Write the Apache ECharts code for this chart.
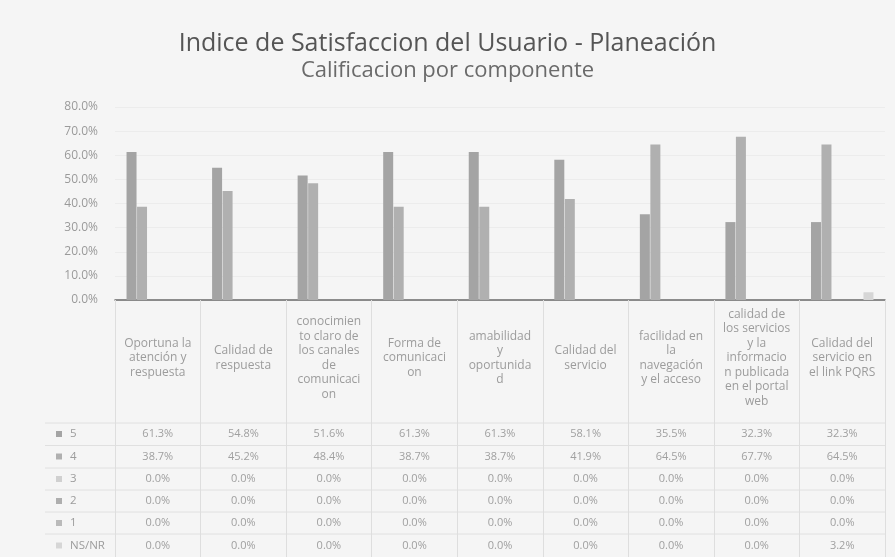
<!DOCTYPE html>
<html>
<head>
<meta charset="utf-8">
<script src="https://cdn.jsdelivr.net/npm/echarts@6/dist/echarts.min.js"></script>
<style>
html,body{margin:0;padding:0;background:#f5f5f5;}
#chart{width:895px;height:557px;}
</style>
</head>
<body>
<div id="chart"></div>
<script>
const categories = [
  'Oportuna la\natención y\nrespuesta',
  'Calidad de\nrespuesta',
  'conocimien\nto claro de\nlos canales\nde\ncomunicaci\non',
  'Forma de\ncomunicaci\non',
  'amabilidad\ny\noportunida\nd',
  'Calidad del\nservicio',
  'facilidad en\nla\nnavegación\ny el acceso',
  'calidad de\nlos servicios\ny la\ninformacio\nn publicada\nen el portal\nweb',
  'Calidad del\nservicio en\nel link PQRS'
];
const seriesNames = ['5', '4', '3', '2', '1', 'NS/NR'];
const s5 = [61.3, 54.8, 51.6, 61.3, 61.3, 58.1, 35.5, 32.3, 32.3];
const s4 = [38.7, 45.2, 48.4, 38.7, 38.7, 41.9, 64.5, 67.7, 64.5];
const s3 = [0, 0, 0, 0, 0, 0, 0, 0, 0];
const s2 = [0, 0, 0, 0, 0, 0, 0, 0, 0];
const s1 = [0, 0, 0, 0, 0, 0, 0, 0, 0];
const sNS = [0, 0, 0, 0, 0, 0, 0, 0, 3.2];
const yTickMin = 0, yTickMax = 80, yTickStep = 10;

const seriesData = [s5, s4, s3, s2, s1, sNS];
const colors = ['#a4a4a4', '#b0b0b0', '#d0d0d0', '#aeaeae', '#bababa', '#d6d6d6'];
const FONT = 'Open Sans';
const axisY = 300;
const gridLeft = 115, gridRight = 10;
const rowY = [434, 456.5, 479, 501, 523, 545.5];
const rowLines = [423, 445.5, 468, 490, 512, 534];

const chart = echarts.init(document.getElementById('chart'));

const xAxes = [{
  type: 'category',
  data: categories,
  gridIndex: 0,
  position: 'bottom',
  axisLine: { show: true, lineStyle: { color: '#6a6a6a', width: 1.5 } },
  axisTick: { show: true, interval: 0, length: 257, lineStyle: { color: '#dedede', width: 1 } },
  axisLabel: {
    interval: 0, margin: 58, verticalAlign: 'middle', lineHeight: 14.5,
    fontSize: 12, color: '#9c9c9c', fontFamily: FONT, align: 'center'
  },
  splitLine: { show: false }
}];
seriesData.forEach(function (arr, k) {
  xAxes.push({
    type: 'category',
    data: categories,
    gridIndex: 0,
    position: 'bottom',
    offset: rowY[k] - axisY,
    axisLine: { show: false },
    axisTick: { show: false },
    axisLabel: {
      interval: 0, margin: 0, verticalAlign: 'middle',
      fontSize: 11, color: '#a0a0a0', fontFamily: FONT,
      formatter: function (v, i) { return arr[i].toFixed(1) + '%'; }
    }
  });
});

const graphics = [];
rowLines.forEach(function (y) {
  graphics.push({
    type: 'line', silent: true,
    shape: { x1: 45, y1: y, x2: 895 - gridRight, y2: y },
    style: { stroke: '#e0e0e0', lineWidth: 1 }
  });
});
seriesNames.forEach(function (n, k) {
  graphics.push({
    type: 'rect', silent: true,
    shape: { x: 56, y: rowY[k] - 3, width: 6, height: 6 },
    style: { fill: colors[k] }
  });
  graphics.push({
    type: 'text', silent: true,
    x: 70, y: rowY[k],
    style: { text: n, fill: '#9c9c9c', font: '11.5px "' + FONT + '"', verticalAlign: 'middle', align: 'left' }
  });
});

chart.setOption({
  backgroundColor: '#f5f5f5',
  animation: false,
  title: {
    left: 'center', top: 26,
    text: 'Indice de Satisfaccion del Usuario - Planeación',
    subtext: 'Calificacion por componente',
    itemGap: 4,
    textStyle: { fontSize: 25, fontWeight: 'normal', color: '#555555', fontFamily: FONT },
    subtextStyle: { fontSize: 22, color: '#6a6a6a', fontFamily: FONT }
  },
  grid: { left: gridLeft, right: gridRight, top: 107, bottom: 557 - axisY, containLabel: false },
  xAxis: xAxes,
  yAxis: {
    type: 'value', min: yTickMin, max: yTickMax, interval: yTickStep,
    axisLine: { show: false }, axisTick: { show: false },
    axisLabel: { fontSize: 12, color: '#9a9a9a', fontFamily: FONT, margin: 17,
      formatter: function (v) { return v.toFixed(1) + '%'; } },
    splitLine: { lineStyle: { color: '#ececec', width: 1 } }
  },
  series: seriesData.map(function (arr, k) {
    return {
      type: 'bar', name: seriesNames[k], data: arr,
      xAxisIndex: 0, yAxisIndex: 0,
      barWidth: 10, barGap: '5%',
      itemStyle: { color: colors[k] }
    };
  }),
  graphic: graphics
});
</script>
</body>
</html>
